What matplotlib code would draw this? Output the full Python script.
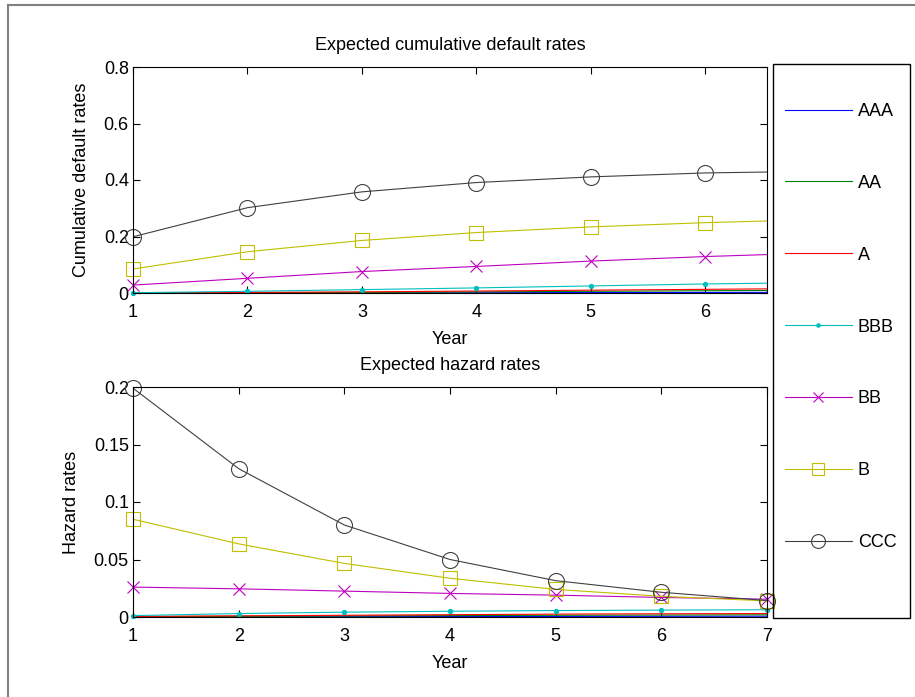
import matplotlib
matplotlib.use("Agg")
import matplotlib.pyplot as plt
from matplotlib.lines import Line2D
from matplotlib.patches import Rectangle

plt.rcParams['font.family'] = ['Liberation Sans', 'DejaVu Sans']
plt.rcParams['font.size'] = 13

years = [1, 2, 3, 4, 5, 6, 7]
ratings = ['AAA', 'AA', 'A', 'BBB', 'BB', 'B', 'CCC']

# cumulative default rates
cum_AAA = [0.0001, 0.0003, 0.0006, 0.001, 0.0015, 0.002, 0.0027]
cum_AA = [0.0003, 0.001, 0.002, 0.004, 0.006, 0.008, 0.010]
cum_A = [0.0005, 0.002, 0.004, 0.007, 0.010, 0.013, 0.016]
cum_BBB = [0.001, 0.006, 0.012, 0.018, 0.025, 0.032, 0.037]
cum_BB = [0.028, 0.052, 0.076, 0.094, 0.113, 0.129, 0.142]
cum_B = [0.085, 0.146, 0.186, 0.214, 0.234, 0.249, 0.260]
cum_CCC = [0.199, 0.302, 0.358, 0.391, 0.411, 0.425, 0.431]

# hazard rates
haz_AAA = [0.0001, 0.0002, 0.0003, 0.0004, 0.0005, 0.0006, 0.0007]
haz_AA = [0.0003, 0.0006, 0.0009, 0.0012, 0.0015, 0.0017, 0.0019]
haz_A = [0.0005, 0.001, 0.0015, 0.002, 0.0025, 0.0028, 0.003]
haz_BBB = [0.0012, 0.0030, 0.0042, 0.0050, 0.0056, 0.0060, 0.0063]
haz_BB = [0.026, 0.0245, 0.0225, 0.0205, 0.019, 0.017, 0.0155]
haz_B = [0.085, 0.0636, 0.0466, 0.0337, 0.024, 0.018, 0.014]
haz_CCC = [0.199, 0.129, 0.080, 0.050, 0.0316, 0.0215, 0.0143]

cum = [cum_AAA, cum_AA, cum_A, cum_BBB, cum_BB, cum_B, cum_CCC]
haz = [haz_AAA, haz_AA, haz_A, haz_BBB, haz_BB, haz_B, haz_CCC]

# old matlab colour order
colors = [(0, 0, 1), (0, 0.5, 0), (1, 0, 0), (0, 0.75, 0.75),
          (0.75, 0, 0.75), (0.75, 0.75, 0), (0.25, 0.25, 0.25)]
markers = ['', '', '', '.', 'x', 's', 'o']
msizes = [0, 0, 0, 6, 9, 10, 11.5]
leg_msizes = [0, 0, 0, 5, 7, 8, 10]

W, H = 915, 697
fig = plt.figure(figsize=(W / 100, H / 100), dpi=100)


def box(l, t, r, b):
    return [l / W, 1 - b / H, (r - l) / W, (b - t) / H]


ax1 = fig.add_axes(box(133, 67, 767, 293))
ax2 = fig.add_axes(box(133, 387, 767, 617))


def draw(ax, data, xmax):
    for vals, c, m, ms in zip(data, colors, markers, msizes):
        ax.plot(years, vals, color=c, linewidth=0.8)
        if m:
            # markers are not clipped by the box, like matlab does it
            xs = [x for x in years if x <= xmax]
            ys = vals[:len(xs)]
            ax.plot(xs, ys, linestyle='none', marker=m, markersize=ms,
                    markerfacecolor='none' if m in ('o', 's') else c,
                    markeredgecolor=c, markeredgewidth=0.8, clip_on=False)
    ax.set_xlim(1, xmax)
    ax.tick_params(direction='in', top=True, right=True, length=5, width=0.8,
                   labelsize=13)
    ax.tick_params(axis='x', pad=8)
    ax.tick_params(axis='y', pad=3)
    for s in ax.spines.values():
        s.set_linewidth(0.8)


draw(ax1, cum, 6.54)
ax1.set_ylim(0, 0.8)
ax1.set_xticks([1, 2, 3, 4, 5, 6])
ax1.set_yticks([0, 0.2, 0.4, 0.6, 0.8])
ax1.set_yticklabels(['0', '0.2', '0.4', '0.6', '0.8'])
ax1.set_title('Expected cumulative default rates', fontsize=13, pad=12)
ax1.set_xlabel('Year', fontsize=13, labelpad=7)
ax1.set_ylabel('Cumulative default rates', fontsize=13, labelpad=10)

draw(ax2, haz, 7)
ax2.set_ylim(0, 0.2)
ax2.set_xticks(years)
ax2.set_yticks([0, 0.05, 0.1, 0.15, 0.2])
ax2.set_yticklabels(['0', '0.05', '0.1', '0.15', '0.2'])
ax2.set_title('Expected hazard rates', fontsize=13, pad=12)
ax2.set_xlabel('Year', fontsize=13, labelpad=7)
ax2.set_ylabel('Hazard rates', fontsize=13, labelpad=10)

# legend in its own tall box to the right
handles = [Line2D([], [], color=c, marker=m, markersize=ms, linewidth=0.8,
                  markerfacecolor='none' if m in ('o', 's') else c,
                  markeredgecolor=c, markeredgewidth=0.8)
           for c, m, ms in zip(colors, markers, leg_msizes)]
fig.legend(handles, ratings, loc='center left',
           bbox_to_anchor=(785 / W, 1 - 327 / H), frameon=False,
           fontsize=13, handlelength=3.7, handletextpad=0.33,
           labelspacing=3.04, borderpad=0, borderaxespad=0)
fig.patches.append(Rectangle((773 / W, 1 - 618 / H), 137 / W, 554 / H,
                             transform=fig.transFigure, fill=False,
                             edgecolor='black', linewidth=1.0))

# window frame
fig.add_artist(Line2D([8 / W, 8 / W], [0, 1 - 5 / H], transform=fig.transFigure,
                      color='0.5', linewidth=1.5))
fig.add_artist(Line2D([8 / W, 1], [1 - 5 / H, 1 - 5 / H], transform=fig.transFigure,
                      color='0.5', linewidth=1.5))

fig.savefig('out.png', dpi=100)
